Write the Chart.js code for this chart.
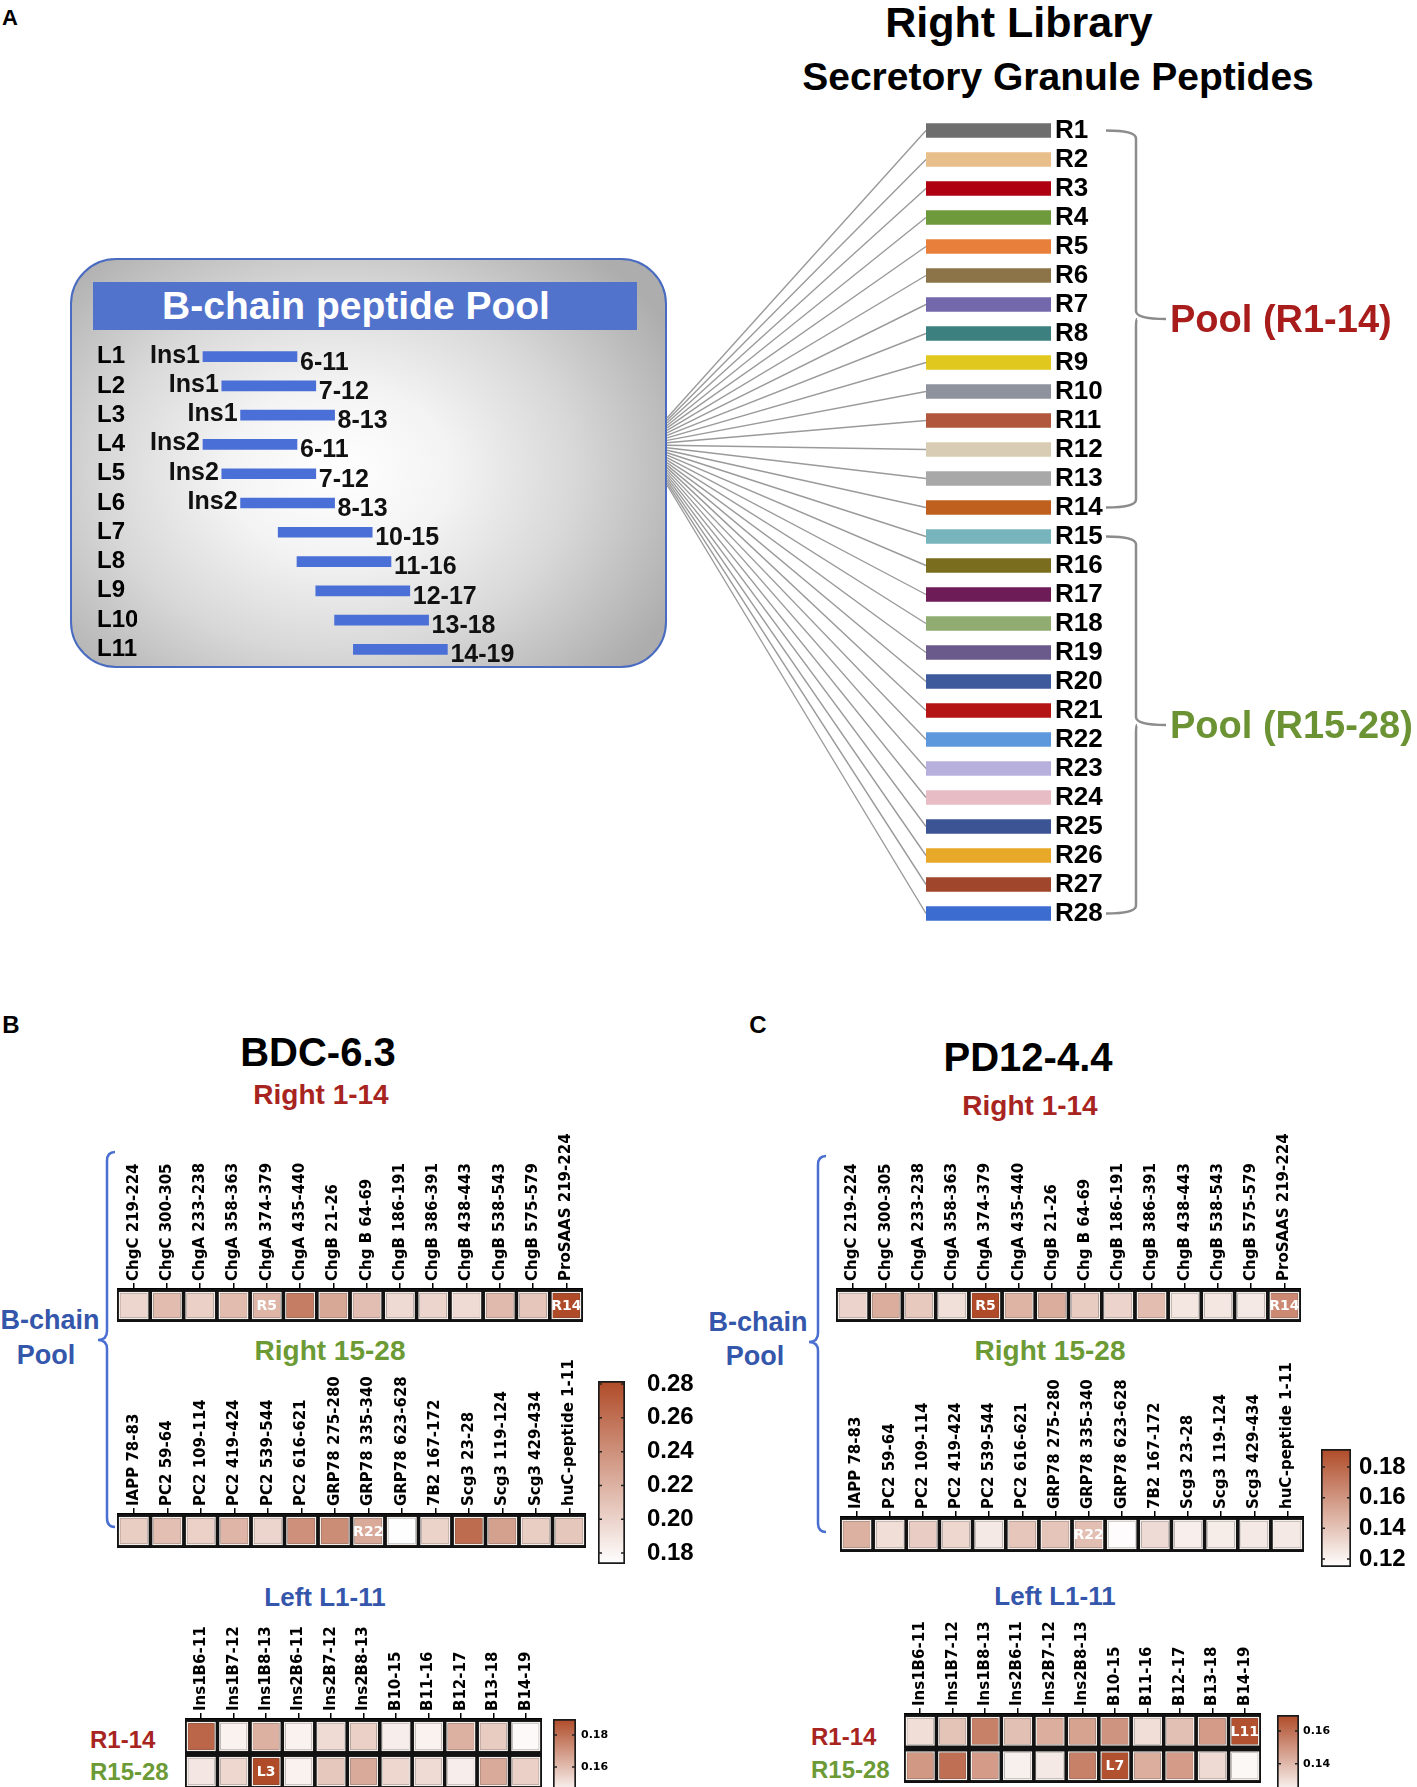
<!DOCTYPE html>
<html lang="en">
<head>
<meta charset="UTF-8" />
<title>B-chain peptide pool screening</title>
<script src="https://cdn.jsdelivr.net/npm/chart.js"></script>
<style>
  html, body { margin: 0; padding: 0; background: #fff; }
  #page {
    position: relative; width: 1417px; height: 1787px; overflow: hidden;
    font-family: "Liberation Sans", Arial, sans-serif; font-weight: bold; color: #000;
  }
  canvas { position: absolute; }
  .t { position: absolute; transform: translate(-50%, -50%); white-space: nowrap; line-height: 1; }
  .l { position: absolute; transform: translateY(-50%); white-space: nowrap; line-height: 1; }
  #box {
    position: absolute; left: 70px; top: 258px; width: 597px; height: 410px; box-sizing: border-box;
    border: 2.5px solid #4a6cc0; border-radius: 46px;
    background: radial-gradient(ellipse 64% 72% at 45% 52%, #ffffff 0%, #f3f3f3 30%, #d8d8d8 62%, #adadad 100%);
  }
  #head {
    position: absolute; left: 93px; top: 282px; width: 544px; height: 48px; background: #5173cc;
    display: flex; align-items: center; justify-content: center; padding-right: 18px; box-sizing: border-box;
    color: #fff; font-size: 39px;
  }
  .red { color: #a82420; }
  .green { color: #6c9a35; }
  .blue { color: #3456ab; }
</style>
</head>
<body>
<div id="page">
  <div class="t" style="left:10px;top:18px;font-size:22px">A</div>
  <div class="t" style="left:1019px;top:22px;font-size:43px">Right Library</div>
  <div class="t" style="left:1058px;top:76px;font-size:39px">Secretory Granule Peptides</div>

  <div id="box"></div>
  <div id="head">B-chain peptide Pool</div>
  <canvas id="leftLib" width="560" height="322" style="left:97px;top:342px"></canvas>
  <canvas id="rightLib" width="757" height="812" style="left:660px;top:116px"></canvas>

  <div class="t" style="left:11px;top:1025px;font-size:24px">B</div>
  <div class="t" style="left:758px;top:1025px;font-size:24px">C</div>
  <div class="t" style="left:318px;top:1052px;font-size:40px">BDC-6.3</div>
  <div class="t" style="left:1028px;top:1057px;font-size:40px">PD12-4.4</div>
  <div class="t red" style="left:321px;top:1095px;font-size:28px">Right 1-14</div>
  <div class="t red" style="left:1030px;top:1106px;font-size:28px">Right 1-14</div>
  <div class="t green" style="left:330px;top:1351px;font-size:28px">Right 15-28</div>
  <div class="t green" style="left:1050px;top:1351px;font-size:28px">Right 15-28</div>
  <div class="t blue" style="left:50px;top:1320px;font-size:27px">B-chain</div>
  <div class="t blue" style="left:46px;top:1355px;font-size:27px">Pool</div>
  <div class="t blue" style="left:758px;top:1322px;font-size:27px">B-chain</div>
  <div class="t blue" style="left:755px;top:1356px;font-size:27px">Pool</div>
  <div class="t blue" style="left:325px;top:1597px;font-size:26px">Left L1-11</div>
  <div class="t blue" style="left:1055px;top:1596px;font-size:26px">Left L1-11</div>
  <div class="l red" style="left:90px;top:1740px;font-size:24px">R1-14</div>
  <div class="l green" style="left:90px;top:1772px;font-size:24px">R15-28</div>
  <div class="l red" style="left:811px;top:1737px;font-size:24px">R1-14</div>
  <div class="l green" style="left:811px;top:1770px;font-size:24px">R15-28</div>

  <svg width="1417" height="1787" style="position:absolute;left:0;top:0" fill="none" stroke="#4a6fd0" stroke-width="2.5">
    <path d="M115,1152 Q107,1152 107,1161 L107,1331 Q107,1340 98,1340 Q107,1340 107,1349 L107,1518 Q107,1527 115,1527" />
    <path d="M826,1156 Q818,1156 818,1165 L818,1333 Q818,1342 809,1342 Q818,1342 818,1351 L818,1523 Q818,1532 826,1532" />
  </svg>

  <canvas id="bdcTop" width="466" height="208" style="left:117px;top:1114px"></canvas>
  <canvas id="bdcBottom" width="469" height="209" style="left:117px;top:1339px"></canvas>
  <canvas id="bdcBar" width="107" height="211" style="left:598px;top:1367px"></canvas>
  <canvas id="bdcLeft" width="357" height="180" style="left:185px;top:1609px"></canvas>
  <canvas id="bdcLeftBar" width="63" height="92" style="left:553px;top:1711px"></canvas>

  <canvas id="pdTop" width="465" height="208" style="left:836px;top:1114px"></canvas>
  <canvas id="pdBottom" width="464" height="210" style="left:840px;top:1342px"></canvas>
  <canvas id="pdBar" width="94" height="146" style="left:1321px;top:1435px"></canvas>
  <canvas id="pdLeft" width="357" height="179" style="left:904px;top:1604px"></canvas>
  <canvas id="pdLeftBar" width="62" height="96" style="left:1277px;top:1707px"></canvas>
</div>

<script>
  // ---- panel A: libraries ----
  const leftLib = ["L1", "L2", "L3", "L4", "L5", "L6", "L7", "L8", "L9", "L10", "L11"];
  const leftParents = ["Ins1", "Ins1", "Ins1", "Ins2", "Ins2", "Ins2", "", "", "", "", ""];
  const leftRanges = [[6, 11], [7, 12], [8, 13], [6, 11], [7, 12], [8, 13], [10, 15], [11, 16], [12, 17], [13, 18], [14, 19]];

  const rightLib = ["R1", "R2", "R3", "R4", "R5", "R6", "R7", "R8", "R9", "R10", "R11", "R12", "R13", "R14",
    "R15", "R16", "R17", "R18", "R19", "R20", "R21", "R22", "R23", "R24", "R25", "R26", "R27", "R28"];
  const rightColors = ["#6e6e6e", "#e8be8a", "#ae0010", "#6f9a3c", "#e8803c", "#8c7448", "#7468ad", "#3d8080",
    "#e0c81e", "#8e929c", "#b0573e", "#d8cdb4", "#a8a8a8", "#c0601e",
    "#78b4bc", "#7a6e1e", "#6e1c58", "#90ac70", "#6a5a8c", "#3c5a9c", "#b41414", "#5e98dc",
    "#b8b0dc", "#e8bcc4", "#3c5494", "#e8a828", "#a0462c", "#3c6cd0"];
  const poolNames = ["Pool (R1-14)", "Pool (R15-28)"];
  const poolFirst = [0, 14];
  const poolLast = [13, 27];
  const poolColors = ["#a81c1c", "#6b9334"];

  // ---- panels B, C: heatmaps ----
  const topPeptides = ["ChgC 219-224", "ChgC 300-305", "ChgA 233-238", "ChgA 358-363", "ChgA 374-379", "ChgA 435-440",
    "ChgB 21-26", "Chg B 64-69", "ChgB 186-191", "ChgB 386-391", "ChgB 438-443", "ChgB 538-543", "ChgB 575-579", "ProSAAS 219-224"];
  const bottomPeptides = ["IAPP 78-83", "PC2 59-64", "PC2 109-114", "PC2 419-424", "PC2 539-544", "PC2 616-621",
    "GRP78 275-280", "GRP78 335-340", "GRP78 623-628", "7B2 167-172", "Scg3 23-28", "Scg3 119-124", "Scg3 429-434", "huC-peptide 1-11"];
  const leftPeptides = ["Ins1B6-11", "Ins1B7-12", "Ins1B8-13", "Ins2B6-11", "Ins2B7-12", "Ins2B8-13",
    "B10-15", "B11-16", "B12-17", "B13-18", "B14-19"];

  const bdcTop = [0.198, 0.214, 0.202, 0.214, 0.218, 0.252, 0.226, 0.213, 0.196, 0.199, 0.195, 0.215, 0.208, 0.282];
  const bdcBottom = [0.203, 0.212, 0.201, 0.218, 0.199, 0.240, 0.242, 0.225, 0.174, 0.200, 0.262, 0.230, 0.203, 0.207];
  const bdcLeftR1 = [0.183, 0.146, 0.163, 0.146, 0.152, 0.155, 0.147, 0.146, 0.163, 0.156, 0.144];
  const bdcLeftR15 = [0.149, 0.153, 0.190, 0.146, 0.157, 0.165, 0.153, 0.152, 0.147, 0.165, 0.155];
  const bdcRange = [0.1735, 0.2818];
  const bdcTicks = [0.18, 0.20, 0.22, 0.24, 0.26, 0.28];
  const bdcLeftRange = [0.1425, 0.19];
  const bdcLeftTicks = [0.16, 0.18];

  const pdTop = [0.133, 0.150, 0.138, 0.128, 0.192, 0.147, 0.150, 0.137, 0.133, 0.143, 0.125, 0.125, 0.124, 0.165];
  const pdBottom = [0.148, 0.129, 0.136, 0.132, 0.124, 0.139, 0.140, 0.142, 0.116, 0.130, 0.122, 0.123, 0.124, 0.124];
  const pdLeftR1 = [0.130, 0.137, 0.155, 0.138, 0.143, 0.146, 0.150, 0.130, 0.138, 0.148, 0.168];
  const pdLeftR15 = [0.149, 0.160, 0.148, 0.125, 0.127, 0.155, 0.168, 0.143, 0.148, 0.131, 0.123];
  const pdRange = [0.1148, 0.1917];
  const pdTicks = [0.12, 0.14, 0.16, 0.18];
  const pdLeftRange = [0.121, 0.1697];
  const pdLeftTicks = [0.14, 0.16];

  // highlighted hits: [column, text]
  const bdcTopMarks = [[4, "R5"], [13, "R14"]];
  const bdcBottomMarks = [[7, "R22"]];
  const bdcLeftMarks = [[], [[2, "L3"]]];
  const pdTopMarks = [[4, "R5"], [13, "R14"]];
  const pdBottomMarks = [[7, "R22"]];
  const pdLeftMarks = [[[10, "L11"]], [[6, "L7"]]];

  Chart.defaults.font.family = '"Liberation Sans", Arial, sans-serif';
  Chart.defaults.color = "#000";
  Chart.defaults.animation = false;
  Chart.defaults.responsive = false;
  Chart.defaults.plugins.legend.display = false;
  Chart.defaults.plugins.tooltip.enabled = false;

  const HEAT_END = [175, 75, 40];
  const LABEL_SIZE = 15;

  function heat(v, range) {
    let f = (v - range[0]) / (range[1] - range[0]);
    f = Math.max(0, Math.min(1, f));
    const c = HEAT_END.map((e) => Math.round(255 + (e - 255) * f));
    return `rgb(${c[0]},${c[1]},${c[2]})`;
  }

  //Left library (floating bars)
  const chainLabels = {
    id: "chainLabels",
    afterDatasetsDraw(chart) {
      const ctx = chart.ctx;
      ctx.save();
      ctx.font = 'bold 25px "Liberation Sans", Arial';
      ctx.fillStyle = "#111";
      ctx.textBaseline = "middle";
      chart.getDatasetMeta(0).data.forEach((b, i) => {
        ctx.textAlign = "right";
        ctx.fillText(leftParents[i], b.base - 3, b.y - 1);
        ctx.textAlign = "left";
        ctx.fillText(leftRanges[i].join("-"), b.x + 3, b.y + 6);
      });
      ctx.restore();
    },
  };

  new Chart(document.getElementById("leftLib"), {
    type: "bar",
    data: {
      labels: leftLib,
      datasets: [{ data: leftRanges, backgroundColor: "#4a6fd6", barThickness: 10 }],
    },
    options: {
      indexAxis: "y",
      layout: { padding: 0 },
      scales: {
        x: { display: false, min: 2.49, max: 30.15 },
        y: {
          grid: { display: false, drawTicks: false },
          border: { display: false },
          ticks: { autoSkip: false, crossAlign: "far", padding: 0, color: "#000", font: { weight: "bold", size: 24 } },
          afterFit: (s) => { s.width = 40; s.paddingTop = 0; s.paddingBottom = 0; },
        },
      },
    },
    plugins: [chainLabels],
  });

  //Right library with fan lines and pool brackets
  const fanLines = {
    id: "fanLines",
    beforeDatasetsDraw(chart) {
      const ctx = chart.ctx;
      const bars = chart.getDatasetMeta(0).data;
      ctx.save();
      ctx.strokeStyle = "#9a9a9a";
      ctx.lineWidth = 1.4;
      bars.forEach((b, i) => {
        ctx.beginPath();
        ctx.moveTo(7, 302 + (i * 67) / (bars.length - 1));
        ctx.lineTo(b.base, b.y);
        ctx.stroke();
      });
      ctx.restore();
    },
  };
  const poolBrackets = {
    id: "poolBrackets",
    afterDraw(chart) {
      const ctx = chart.ctx;
      const y = chart.scales.y;
      const x0 = chart.chartArea.right + 55, x1 = x0 + 30, x2 = x1 + 30;
      ctx.save();
      poolNames.forEach((name, k) => {
        const top = y.getPixelForValue(poolFirst[k]);
        const bot = y.getPixelForValue(poolLast[k]);
        const mid = (top + bot) / 2;
        ctx.strokeStyle = "#8c8c8c";
        ctx.lineWidth = 2.5;
        ctx.beginPath();
        ctx.moveTo(x0, top);
        ctx.quadraticCurveTo(x1, top, x1, top + 8);
        ctx.lineTo(x1, mid - 8);
        ctx.quadraticCurveTo(x1, mid, x2, mid);
        ctx.moveTo(x1 + 1, mid);
        ctx.quadraticCurveTo(x1, mid, x1, mid + 8);
        ctx.lineTo(x1, bot - 8);
        ctx.quadraticCurveTo(x1, bot, x0, bot);
        ctx.stroke();
        ctx.fillStyle = poolColors[k];
        ctx.font = 'bold 38px "Liberation Sans", Arial';
        ctx.textAlign = "left";
        ctx.textBaseline = "middle";
        ctx.fillText(name, x2 + 4, mid + 3);
      });
      ctx.restore();
    },
  };

  new Chart(document.getElementById("rightLib"), {
    type: "bar",
    data: {
      labels: rightLib,
      datasets: [{ data: rightLib.map(() => [0, 1]), backgroundColor: rightColors, barThickness: 14 }],
    },
    options: {
      indexAxis: "y",
      layout: { padding: { left: 266, right: 308, top: 0, bottom: 0 } },
      scales: {
        x: { display: false, min: 0, max: 1 },
        y: {
          position: "right",
          grid: { display: false, drawTicks: false },
          border: { display: false },
          ticks: { autoSkip: false, padding: 4, color: "#000", font: { weight: "bold", size: 26 } },
          afterFit: (s) => { s.width = 58; s.paddingTop = 0; s.paddingBottom = 0; },
        },
      },
    },
    plugins: [fanLines, poolBrackets],
  });

  //Heatmap strips
  const cellBg = {
    id: "cellBg",
    beforeDatasetsDraw(chart) {
      const a = chart.chartArea;
      chart.ctx.save();
      chart.ctx.fillStyle = "#121212";
      chart.ctx.fillRect(a.left, a.top, a.right - a.left, a.bottom - a.top);
      chart.ctx.restore();
    },
    afterDatasetsDraw(chart) {
      const ctx = chart.ctx;
      ctx.save();
      ctx.fillStyle = "#fff";
      ctx.font = 'bold 14px "DejaVu Sans", sans-serif';
      ctx.textAlign = "center";
      ctx.textBaseline = "middle";
      chart.data.datasets.forEach((ds, d) => {
        const els = chart.getDatasetMeta(d).data;
        (ds.marks || []).forEach(([i, txt]) => {
          const p = els[i].getCenterPoint();
          ctx.fillText(txt, p.x, p.y + 1);
        });
      });
      ctx.restore();
    },
  };

  function heatmap(id, labels, rows, marks, range, labelH) {
    const n = rows.length;
    new Chart(document.getElementById(id), {
      type: "bar",
      data: {
        labels: labels,
        datasets: rows.map((vals, r) => ({
          data: vals.map(() => [n - 1 - r + 0.08, n - r - 0.08]),
          backgroundColor: vals.map((v) => heat(v, range)),
          borderColor: "#f4eeea",
          borderWidth: 1.5,
          borderSkipped: false,
          grouped: false,
          barPercentage: 0.9,
          categoryPercentage: 1,
          marks: marks[r],
        })),
      },
      options: {
        layout: { padding: 0 },
        scales: {
          x: {
            position: "top",
            offset: true,
            grid: { display: true, drawOnChartArea: false, drawTicks: true, tickLength: 6, color: "#000", lineWidth: 1.5, offset: false },
            border: { display: true, color: "#000", width: 2 },
            ticks: {
              autoSkip: false, minRotation: 90, maxRotation: 90, padding: 2, color: "#000",
              labelOffset: LABEL_SIZE * 1.2,
              font: { family: '"DejaVu Sans", sans-serif', weight: "bold", size: LABEL_SIZE },
            },
            afterFit: (s) => { s.height = labelH; s.paddingLeft = 0; s.paddingRight = 0; },
          },
          y: { display: false, min: 0, max: n },
        },
      },
      plugins: [cellBg],
    });
  }

  //Colour bars
  const barTicks = {
    id: "barTicks",
    afterDatasetsDraw(chart) {
      const a = chart.chartArea, ctx = chart.ctx, y = chart.scales.y;
      ctx.save();
      ctx.strokeStyle = "#222";
      ctx.lineWidth = 1.5;
      y.ticks.forEach((t) => {
        const py = y.getPixelForValue(t.value);
        ctx.beginPath();
        ctx.moveTo(a.left, py); ctx.lineTo(a.left + 4, py);
        ctx.moveTo(a.right, py); ctx.lineTo(a.right - 4, py);
        ctx.stroke();
      });
      ctx.restore();
    },
  };

  function colorbar(id, range, ticks, font, gap, axisW, pad) {
    new Chart(document.getElementById(id), {
      type: "bar",
      data: {
        labels: [""],
        datasets: [{
          data: [range],
          backgroundColor: (c) => {
            const a = c.chart.chartArea;
            if (!a) return "#fff";
            const g = c.chart.ctx.createLinearGradient(0, a.bottom, 0, a.top);
            g.addColorStop(0, "#ffffff");
            g.addColorStop(1, heat(range[1], range));
            return g;
          },
          borderColor: "#1a1a1a",
          borderWidth: 2,
          borderSkipped: false,
          barPercentage: 1,
          categoryPercentage: 1,
        }],
      },
      options: {
        layout: { padding: { top: pad, bottom: pad, left: 0, right: 0 } },
        scales: {
          x: { display: false },
          y: {
            position: "right",
            min: range[0],
            max: range[1],
            afterBuildTicks: (s) => { s.ticks = ticks.map((v) => ({ value: v })); },
            grid: { drawOnChartArea: false, drawTicks: false },
            border: { display: false },
            ticks: { padding: gap, color: "#000", font: font, callback: (v) => v.toFixed(2) },
            afterFit: (s) => { s.width = axisW; s.paddingTop = 0; s.paddingBottom = 0; },
          },
        },
      },
      plugins: [barTicks],
    });
  }

  heatmap("bdcTop", topPeptides, [bdcTop], [bdcTopMarks], bdcRange, 175);
  heatmap("bdcBottom", bottomPeptides, [bdcBottom], [bdcBottomMarks], bdcRange, 175);
  heatmap("bdcLeft", leftPeptides, [bdcLeftR1, bdcLeftR15], bdcLeftMarks, bdcLeftRange, 110);
  heatmap("pdTop", topPeptides, [pdTop], [pdTopMarks], pdRange, 175);
  heatmap("pdBottom", bottomPeptides, [pdBottom], [pdBottomMarks], pdRange, 175);
  heatmap("pdLeft", leftPeptides, [pdLeftR1, pdLeftR15], pdLeftMarks, pdLeftRange, 110);

  const bigFont = { family: '"Liberation Sans", Arial', weight: "bold", size: 24 };
  const smallFont = { family: '"DejaVu Sans", sans-serif', weight: "bold", size: 11 };
  colorbar("bdcBar", bdcRange, bdcTicks, bigFont, 22, 80, 14);
  colorbar("pdBar", pdRange, pdTicks, bigFont, 8, 64, 14);
  colorbar("bdcLeftBar", bdcLeftRange, bdcLeftTicks, smallFont, 5, 40, 8);
  colorbar("pdLeftBar", pdLeftRange, pdLeftTicks, smallFont, 4, 40, 8);
</script>
</body>
</html>
